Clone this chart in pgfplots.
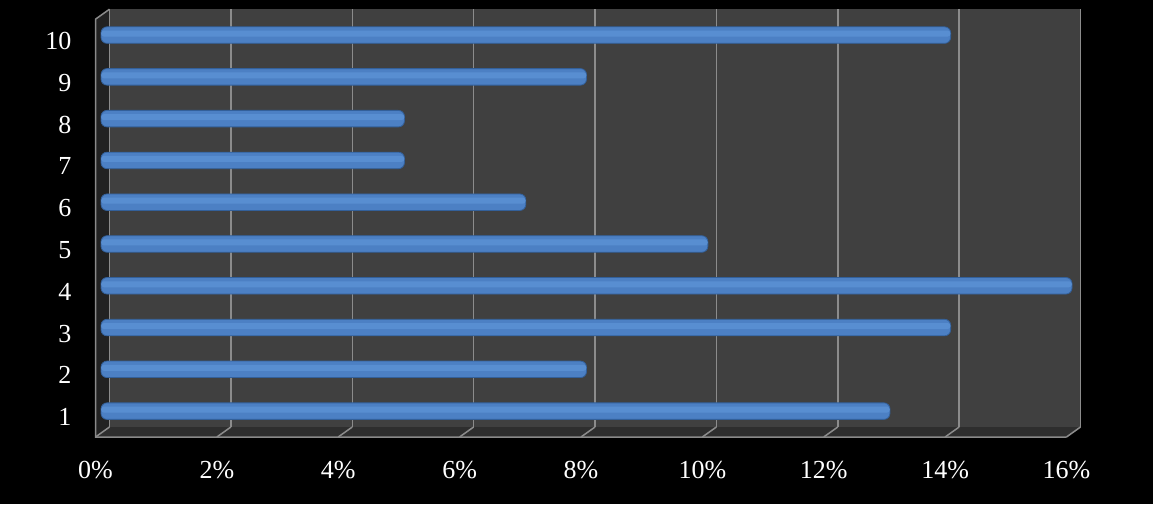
\documentclass[border=0pt]{standalone}
\usepackage{pgfplots}
\pgfplotsset{compat=1.18}
\usepackage{fontspec}
\setmainfont{Liberation Serif}
\usetikzlibrary{calc}
\definecolor{wallc}{HTML}{404040}
\definecolor{floorc}{HTML}{2E2E2E}
\definecolor{sidec}{HTML}{222222}
\definecolor{gridc}{HTML}{8C8C8C}
\definecolor{edgec}{HTML}{8A8A8A}
\definecolor{barHi}{HTML}{6198DA}
\definecolor{barMid}{HTML}{4C80C4}
\definecolor{barEdge}{HTML}{33609A}
\pgfdeclarelayer{bg}
\pgfplotsset{
  layers/mylayers/.define layer set={bg,axis background,axis grid,axis ticks,axis lines,axis tick labels,main,axis descriptions,axis foreground}{},
}
\pgfplotstableread{
val cat
13 1
8 2
14 3
16 4
10 5
7 6
5 7
5 8
8 9
14 10
}\bardata
\begin{document}
\begin{tikzpicture}
\begin{axis}[
  set layers=mylayers,
  at={(101pt,72pt)}, anchor=south west,
  scale only axis, width=971pt, height=417.8pt,
  xmin=0, xmax=16, ymin=0.5, ymax=10.5,
  xtick={0,2,...,16}, ytick={1,2,...,10},
  xticklabel={\pgfmathprintnumber[assume math mode=true]{\tick}\%},
  /pgf/number format/assume math mode=true,
  axis line style={draw=none},
  major tick length=0pt, tick style={draw=none},
  ticklabel style={font=\fontsize{26}{31}\selectfont, text=white},
  xticklabel style={xshift=-5.5pt, yshift=-26pt},
  yticklabel style={xshift=-26pt, yshift=-6pt},
  clip=false,
]
\begin{pgfonlayer}{bg}
  \fill[black] ($(axis cs:0,0.5)+(-101pt,-72pt)$) rectangle ($(axis cs:0,0.5)+(1052pt,432pt)$);
\end{pgfonlayer}
\begin{pgfonlayer}{axis background}
  % back wall
  \fill[wallc] ($(axis cs:0,0.5)+(8.5pt,5pt)$) rectangle ($(axis cs:16,10.5)+(8.5pt,5pt)$);
  % floor
  \fill[floorc] ($(axis cs:0,0.5)+(-5.5pt,-5pt)$) -- ($(axis cs:16,0.5)+(-5.5pt,-5pt)$)
     -- ($(axis cs:16,0.5)+(8.5pt,5pt)$) -- ($(axis cs:0,0.5)+(8.5pt,5pt)$) -- cycle;
  % left side wall
  \fill[sidec] ($(axis cs:0,0.5)+(-5.5pt,-5pt)$) -- ($(axis cs:0,10.5)+(-5.5pt,-5pt)$)
     -- ($(axis cs:0,10.5)+(8.5pt,5pt)$) -- ($(axis cs:0,0.5)+(8.5pt,5pt)$) -- cycle;
  % grid lines on back wall and floor
  \pgfplotsinvokeforeach{0,2,...,16}{
    \draw[gridc, line width=1.5pt] ($(axis cs:#1,0.5)+(8.5pt,5pt)$) -- ($(axis cs:#1,10.5)+(8.5pt,5pt)$);
    \draw[gridc, line width=1.5pt] ($(axis cs:#1,0.5)+(8.5pt,5pt)$) -- ($(axis cs:#1,0.5)+(-5.5pt,-5pt)$);
  }
  % front edges
  \draw[edgec, line width=1.5pt] ($(axis cs:0,10.5)+(8.5pt,5pt)$) -- ($(axis cs:0,10.5)+(-5.5pt,-5pt)$)
     -- ($(axis cs:0,0.5)+(-5.5pt,-5pt)$) -- ($(axis cs:16,0.5)+(-5.5pt,-5pt)$);
\end{pgfonlayer}
\addplot[xbar, bar width=16.5pt, draw=barEdge, line width=0.8pt, rounded corners=6pt, fill=barMid]
  table[x=val, y=cat] {\bardata};
\addplot[xbar, bar width=6pt, bar shift=1.5pt, draw=none, rounded corners=3pt, fill=barHi, fill opacity=0.6,
  forget plot]
  table[x=val, y=cat] {\bardata};
\end{axis}
\end{tikzpicture}
\end{document}
